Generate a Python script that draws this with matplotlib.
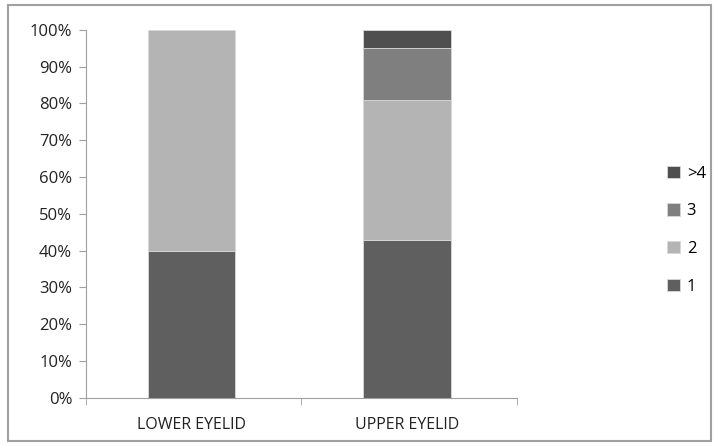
import numpy as np
import matplotlib
matplotlib.use("Agg")
import matplotlib.pyplot as plt
from matplotlib.patches import Rectangle
from matplotlib.ticker import FixedLocator, PercentFormatter

categories = ["LOWER EYELID", "UPPER EYELID"]
series_names = ["1", "2", "3", ">4"]
val_1 = [40, 43]
val_2 = [60, 38]
val_3 = [0, 14]
val_4 = [0, 5]
colors = ["#5f5f5f", "#b4b4b4", "#7f7f7f", "#4f4f4f"]

plt.rcParams["font.family"] = ["Open Sans", "DejaVu Sans"]

fig = plt.figure(figsize=(7.17, 4.46), dpi=100)
ax = fig.add_axes([0.12, 0.108, 0.601, 0.825])

x = np.arange(len(categories))
bottom = np.zeros(len(categories))
handles = []
for name, vals, c in zip(series_names, [val_1, val_2, val_3, val_4], colors):
    h = ax.bar(x, vals, width=0.405, bottom=bottom, color=c, label=name,
               edgecolor="#d8d8d8", linewidth=0.6)
    handles.append(h)
    bottom += np.array(vals)

ax.set_xlim(-0.49, 1.51)
ax.set_ylim(0, 100)
ax.set_yticks(np.arange(0, 101, 10))
ax.yaxis.set_major_formatter(PercentFormatter(decimals=0))
ax.set_xticks(x)
ax.set_xticklabels(categories)
ax.xaxis.set_minor_locator(FixedLocator([-0.49, 0.51, 1.51]))
ax.tick_params(axis="x", which="major", length=0, pad=14, labelsize=11.5, colors="#222222")
ax.tick_params(axis="x", which="minor", length=5, color="#a0a0a0")
ax.tick_params(axis="y", length=5, color="#a0a0a0", labelsize=12, labelcolor="#222222", pad=5)
for s in ["top", "right"]:
    ax.spines[s].set_visible(False)
for s in ["left", "bottom"]:
    ax.spines[s].set_color("#a0a0a0")

fig.legend(handles[::-1], series_names[::-1], loc="center left",
           bbox_to_anchor=(0.91, 0.484), frameon=False, fontsize=12,
           handlelength=0.75, handleheight=0.75, handletextpad=0.4,
           labelspacing=1.3)

fig.patches.append(Rectangle((0.011, 0.012), 0.98, 0.976, transform=fig.transFigure,
                             fill=False, edgecolor="#a0a0a0", linewidth=1.5))

fig.savefig("out.png", dpi=100)
